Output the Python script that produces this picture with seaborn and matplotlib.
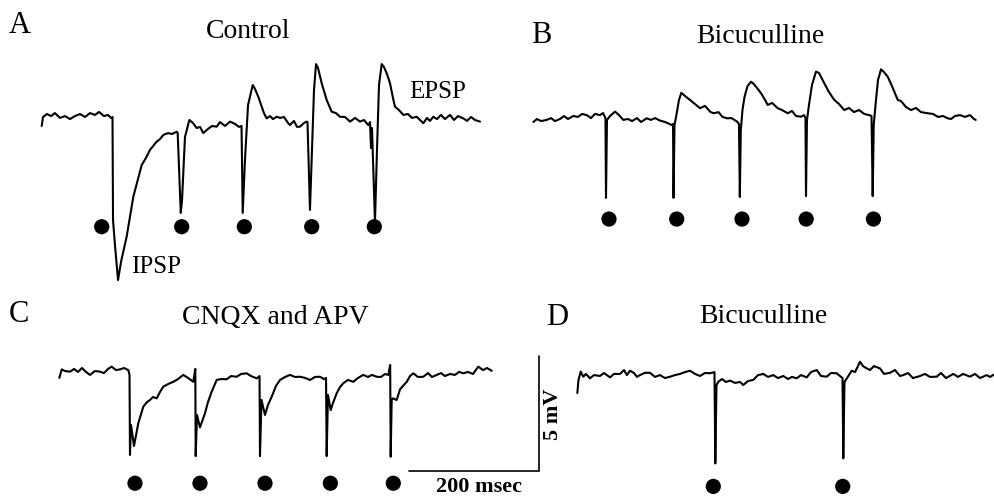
import matplotlib
matplotlib.use("Agg")
import matplotlib.pyplot as plt
import seaborn as sns

sns.set_theme(style="white")
plt.rcParams["font.family"] = ["Liberation Serif", "DejaVu Serif"]
plt.rcParams["text.color"] = "black"

# ---------------- data (time in ms from trace start, voltage in mV from baseline) ----------------
A_TIME = [1.1, 3.1, 9.2, 15.4, 21.5, 29.2, 36.9, 44.6, 52.3, 60.0, 67.7, 75.4, 83.1, 89.2, 96.9, 103.1, 107.7, 110.0,
          110.8, 113.8, 118.5, 123.1, 131.8, 142.0, 154.9, 161.5, 167.7, 178.0, 183.1, 188.2, 195.4, 201.5, 208.8, 210.3,
          215.0, 217.0, 221.5, 228.2, 233.8, 239.5, 244.6, 249.7, 256.9, 263.1, 270.3, 275.4, 283.1, 290.8, 298.5, 304.6, 308.5,
          310.3, 313.8, 318.5, 325.7, 329.2, 334.3, 343.1, 347.2, 352.3, 356.9, 362.6, 367.7, 373.8, 380.0, 383.1, 389.2, 393.8, 398.5, 404.6, 408.8, 410.0,
          411.5, 413.8, 416.9, 420.0, 423.1, 426.2, 431.8, 439.5, 447.2, 453.8, 460.0, 467.7, 475.4, 483.1, 490.8, 496.9, 503.5, 506.2,
          507.7, 509.2, 510.8, 513.8, 516.9, 520.0, 524.2, 527.7, 532.3, 536.9, 541.5, 544.6, 550.8, 557.4, 564.6, 570.8, 578.0, 583.1,
          588.2, 593.8, 598.5, 603.5, 609.2, 615.4, 621.5, 629.2, 635.4, 641.5, 649.7, 655.4, 661.5, 667.7, 675.4]
A_MV = [-0.39, 0.0, 0.13, 0.04, 0.17, -0.04, 0.04, -0.09, 0.04, 0.13, 0.0, 0.17, 0.09, 0.22, 0.04, 0.09, -0.04, 0.0,
        -4.48, -5.57, -7.09, -6.30, -5.20, -3.47, -2.09, -1.78, -1.43, -1.07, -0.96, -0.78, -0.70, -0.74, -0.64, -0.70,
        -4.17, -3.61, -0.87, -0.13, -0.26, -0.48, -0.43, -0.70, -0.52, -0.39, -0.42, -0.22, -0.39, -0.20, -0.30, -0.43, -0.39,
        -4.17, -1.87, 0.52, 1.39, 1.22, 0.88, 0.16, -0.06, 0.04, -0.09, 0.01, -0.04, 0.0, -0.26, -0.35, -0.17, -0.43, -0.42, -0.26, -0.20, -0.22,
        -1.74, -4.04, -1.43, 1.17, 2.30, 2.13, 1.47, 0.74, 0.23, 0.17, 0.01, 0.0, -0.20, -0.04, -0.20, -0.13, -0.35, -0.22,
        -1.35, -0.48, -1.87, -4.57, -1.43, 1.39, 2.30, 2.17, 1.87, 1.47, 0.83, 0.45, 0.30, 0.09, 0.13, -0.04, 0.01, -0.13,
        -0.27, -0.04, -0.17, 0.01, -0.09, 0.09, -0.09, 0.09, -0.13, 0.04, -0.06, -0.17, 0.0, -0.13, -0.20]
A_STIM = [93.4, 216.5, 312.8, 416.5, 512.8]

B_TIME = [0.5, 6.2, 12.3, 21.1, 27.7, 33.8, 41.5, 47.7, 53.8, 62.0,
          69.2, 75.4, 82.6, 89.2, 95.4, 103.1, 107.7, 111.5, 112.3, 113.8,
          118.5, 126.2, 132.3, 138.9, 146.2, 152.3, 160.0, 166.2, 174.9, 181.5,
          187.7, 195.4, 203.1, 213.4, 215.4, 216.2, 217.7, 221.1, 224.6, 228.2,
          233.8, 241.5, 249.2, 256.9, 264.6, 273.1, 278.2, 285.4, 291.5, 298.8,
          305.4, 314.2, 316.9, 318.2, 319.7, 322.3, 325.4, 330.0, 335.4, 339.7,
          344.6, 350.8, 355.4, 361.1, 367.7, 376.5, 383.1, 391.8, 398.5, 404.6,
          412.3, 416.9, 419.2, 420.0, 421.5, 424.6, 429.2, 435.4, 440.0, 448.2,
          455.4, 463.5, 470.8, 478.9, 486.2, 493.8, 501.5, 509.7, 516.9, 520.8,
          522.6, 524.2, 527.7, 530.8, 535.4, 540.0, 545.7, 552.3, 561.1, 566.2,
          573.8, 581.5, 589.2, 596.9, 607.2, 615.4, 623.1, 630.8, 638.0, 643.1,
          649.2, 656.9, 664.6, 672.3, 678.5, 681.1]
B_MV = [-0.13, 0.0, -0.09, -0.04, 0.04, -0.09, 0.0, 0.13, 0.0, 0.13,
        0.09, 0.22, 0.17, 0.04, 0.22, 0.17, 0.26, 0.04, -3.43, -0.04,
        0.13, 0.32, 0.17, -0.04, 0.0, -0.09, 0.04, -0.13, 0.03, -0.04,
        0.04, -0.07, -0.13, -0.26, -0.22, -3.43, -0.26, 0.25, 0.83, 1.14,
        1.0, 0.83, 0.65, 0.47, 0.57, 0.30, 0.25, 0.30, 0.09, 0.03,
        0.04, -0.12, -0.22, -3.39, -0.48, 0.39, 0.96, 1.43, 1.62, 1.52,
        1.35, 1.12, 0.91, 0.61, 0.70, 0.47, 0.39, 0.25, 0.35, 0.13,
        0.10, 0.17, 0.04, -3.35, -0.04, 0.61, 1.48, 2.06, 2.0, 1.55,
        1.17, 0.83, 0.65, 0.39, 0.48, 0.30, 0.39, 0.22, 0.17, 0.13,
        -3.35, -0.26, 0.83, 1.70, 2.16, 2.04, 1.84, 1.43, 0.83, 0.78,
        0.52, 0.39, 0.48, 0.30, 0.25, 0.22, 0.09, 0.13, 0.03, 0.0,
        0.13, 0.17, 0.09, 0.17, 0.0, -0.04]
B_STIM = [116.9, 221.1, 321.5, 420.3, 523.8]

C_TIME = [0.5, 4.2, 9.2, 16.9, 23.1, 29.2, 35.4, 41.5, 47.7, 55.4,
          63.1, 69.2, 75.4, 81.1, 87.7, 93.8, 100.0, 106.6, 108.5, 109.2,
          110.8, 115.4, 122.0, 129.7, 135.4, 140.0, 144.6, 150.3, 155.4, 160.5,
          167.7, 175.8, 183.1, 191.2, 198.5, 206.6, 209.7, 210.3, 212.3, 216.9,
          224.6, 229.2, 234.9, 242.6, 249.2, 258.0, 264.6, 273.4, 280.0, 288.8,
          295.4, 304.2, 308.5, 309.2, 311.5, 316.9, 321.5, 327.2, 333.8, 340.0,
          347.7, 355.4, 363.1, 370.8, 378.5, 386.2, 393.8, 401.5, 407.7, 410.8,
          411.8, 413.8, 418.0, 421.5, 427.2, 432.3, 437.4, 444.6, 452.8, 460.0,
          468.2, 475.4, 481.5, 488.8, 495.4, 501.5, 506.6, 509.5, 510.3, 511.8,
          513.4, 519.5, 524.6, 529.2, 535.0, 540.0, 545.1, 552.3, 560.5, 567.7,
          573.8, 581.1, 587.7, 593.8, 601.5, 609.2, 615.4, 622.0, 629.2, 636.9,
          645.1, 652.3, 658.5, 665.7]
C_MV = [-0.30, 0.07, 0.0, -0.03, 0.09, -0.04, 0.13, -0.04, -0.17, 0.0,
        -0.03, -0.09, 0.09, 0.19, 0.04, 0.07, 0.13, 0.04, -0.17, -3.65,
        -2.35, -3.26, -2.27, -1.55, -1.35, -1.26, -1.13, -1.19, -0.91, -0.68,
        -0.57, -0.47, -0.35, -0.17, -0.30, -0.47, 0.09, -3.70, -1.91, -2.45,
        -1.84, -1.35, -0.90, -0.39, -0.35, -0.36, -0.22, -0.25, -0.13, -0.10,
        -0.22, -0.32, -0.22, -3.70, -1.26, -1.91, -1.48, -1.12, -0.65, -0.39,
        -0.26, -0.17, -0.26, -0.25, -0.30, -0.39, -0.26, -0.25, -0.35, -0.30,
        -3.70, -1.04, -1.70, -1.39, -0.97, -0.70, -0.53, -0.39, -0.47, -0.30,
        -0.17, -0.26, -0.17, -0.25, -0.26, -0.13, -0.17, 0.26, -3.73, -1.26,
        -1.19, -1.26, -0.80, -0.65, -0.47, -0.22, -0.10, -0.26, -0.25, -0.09,
        -0.26, -0.17, -0.09, -0.22, -0.13, -0.17, -0.04, -0.10, -0.04, -0.13,
        0.19, 0.04, 0.13, 0.01]
C_STIM = [116.9, 216.9, 316.9, 417.5, 514.3]

D_TIME = [0.5, 2.3, 5.7, 9.7, 13.8, 20.0, 26.2, 35.4, 41.5, 50.8,
          56.9, 66.2, 72.3, 76.9, 81.5, 87.7, 92.3, 96.9, 104.6, 112.3,
          120.0, 127.7, 135.4, 143.1, 150.8, 158.5, 166.2, 173.8, 181.5, 189.2,
          196.9, 204.6, 211.5, 212.8, 214.6, 217.4, 223.1, 229.2, 235.4, 243.1,
          250.8, 255.8, 263.1, 271.2, 278.5, 286.6, 293.8, 301.9, 309.2, 317.4,
          324.6, 330.8, 338.0, 344.6, 353.4, 360.0, 368.8, 375.4, 384.2, 390.8,
          399.5, 404.6, 408.5, 409.7, 411.5, 415.4, 422.6, 427.7, 432.3, 435.4,
          440.0, 444.6, 450.8, 456.9, 466.2, 472.3, 481.5, 489.2, 496.9, 502.0,
          509.2, 516.9, 527.7, 535.4, 543.1, 553.4, 560.0, 567.7, 578.9, 586.2,
          593.8, 604.6, 612.3, 620.0, 630.3, 635.4, 643.1]
D_MV = [-0.74, -0.17, 0.19, -0.03, 0.09, -0.10, 0.04, 0.0, 0.13, -0.06,
        0.09, 0.09, 0.26, 0.04, 0.23, 0.13, -0.04, 0.04, 0.14, 0.14,
        -0.04, 0.04, -0.09, -0.03, 0.04, 0.09, 0.17, 0.23, 0.09, 0.0,
        0.13, 0.12, 0.17, -3.80, -0.39, -0.25, -0.13, -0.26, -0.20, -0.30,
        -0.26, -0.39, -0.22, -0.17, 0.04, 0.09, -0.04, 0.04, -0.09, 0.0,
        -0.13, -0.04, -0.10, 0.04, -0.06, 0.17, 0.26, 0.0, -0.03, 0.13,
        0.12, 0.0, -0.09, -3.58, -0.26, -0.09, 0.23, 0.17, 0.43, 0.62,
        0.43, 0.35, 0.26, 0.43, 0.33, 0.09, 0.14, 0.26, 0.0, 0.04,
        0.13, -0.09, 0.0, 0.09, -0.04, -0.03, 0.13, -0.09, 0.09, -0.04,
        0.09, -0.03, 0.09, -0.09, 0.04, -0.04, 0.09]
D_STIM = [209.7, 408.8]

PANEL_LETTERS = ["A", "B", "C", "D"]
PANEL_TITLES = ["Control", "Bicuculline", "CNQX and APV", "Bicuculline"]
SCALE_MS = 200
SCALE_MV = 5
SCALE_LABELS = ["200 msec", "5 mV"]

# ---------------- layout ----------------
W, H = 995, 496
PX_PER_MS = 0.65
PX_PER_MV = 23.0
fig = plt.figure(figsize=(W / 100, H / 100), dpi=100)
fig.patch.set_facecolor("white")


def panel_axes(x0, yb):
    ax = fig.add_axes([0, 0, 1, 1])
    ax.set_xlim(-x0 / PX_PER_MS, (W - x0) / PX_PER_MS)
    ax.set_ylim((yb - H) / PX_PER_MV, yb / PX_PER_MV)
    ax.axis("off")
    ax.patch.set_alpha(0)
    return ax


panels = [
    (41, 117, A_TIME, A_MV, A_STIM, -4.77),
    (533, 119, B_TIME, B_MV, B_STIM, -4.35),
    (59, 371, C_TIME, C_MV, C_STIM, -4.88),
    (577, 376, D_TIME, D_MV, D_STIM, -4.80),
]
axes = []
for x0, yb, t, v, stim, lvl in panels:
    ax = panel_axes(x0, yb)
    sns.lineplot(x=t, y=v, ax=ax, color="black", lw=1.5, estimator=None, sort=False, legend=False)
    sns.scatterplot(x=stim, y=[lvl] * len(stim), ax=ax, s=120, color="black", edgecolor="none", legend=False)
    axes.append(ax)

# scale bar in panel C
axc = axes[2]
t0, v0 = 538.5, -4.35
axc.plot([t0, t0 + SCALE_MS, t0 + SCALE_MS], [v0, v0, v0 + SCALE_MV], color="black", lw=1.2,
         solid_joinstyle="miter")


def ftext(x, y, s, **kw):
    fig.text(x / W, 1 - y / H, s, color="black", **kw)


letter_kw = dict(fontsize=22, ha="center", va="baseline")
title_kw = dict(fontsize=20, ha="center", va="baseline")
ftext(20, 33, PANEL_LETTERS[0], **letter_kw)
ftext(541, 43, PANEL_LETTERS[1], **letter_kw)
ftext(18.5, 322, PANEL_LETTERS[2], **letter_kw)
ftext(557, 325, PANEL_LETTERS[3], **letter_kw)
ftext(248.5, 38, PANEL_TITLES[0], **title_kw)
ftext(760, 43, PANEL_TITLES[1], **title_kw)
ftext(275, 324, PANEL_TITLES[2], **title_kw)
ftext(763, 323, PANEL_TITLES[3], **title_kw)
ftext(438, 98, "EPSP", fontsize=18, ha="center", va="baseline")
ftext(156, 273, "IPSP", fontsize=18, ha="center", va="baseline")
ftext(479, 492, SCALE_LABELS[0], fontsize=16, fontweight="bold", ha="center", va="baseline")
ftext(553, 414, SCALE_LABELS[1], fontsize=16, fontweight="bold", ha="center", va="center", rotation=90)

fig.savefig("out.png", dpi=100, facecolor="white")
